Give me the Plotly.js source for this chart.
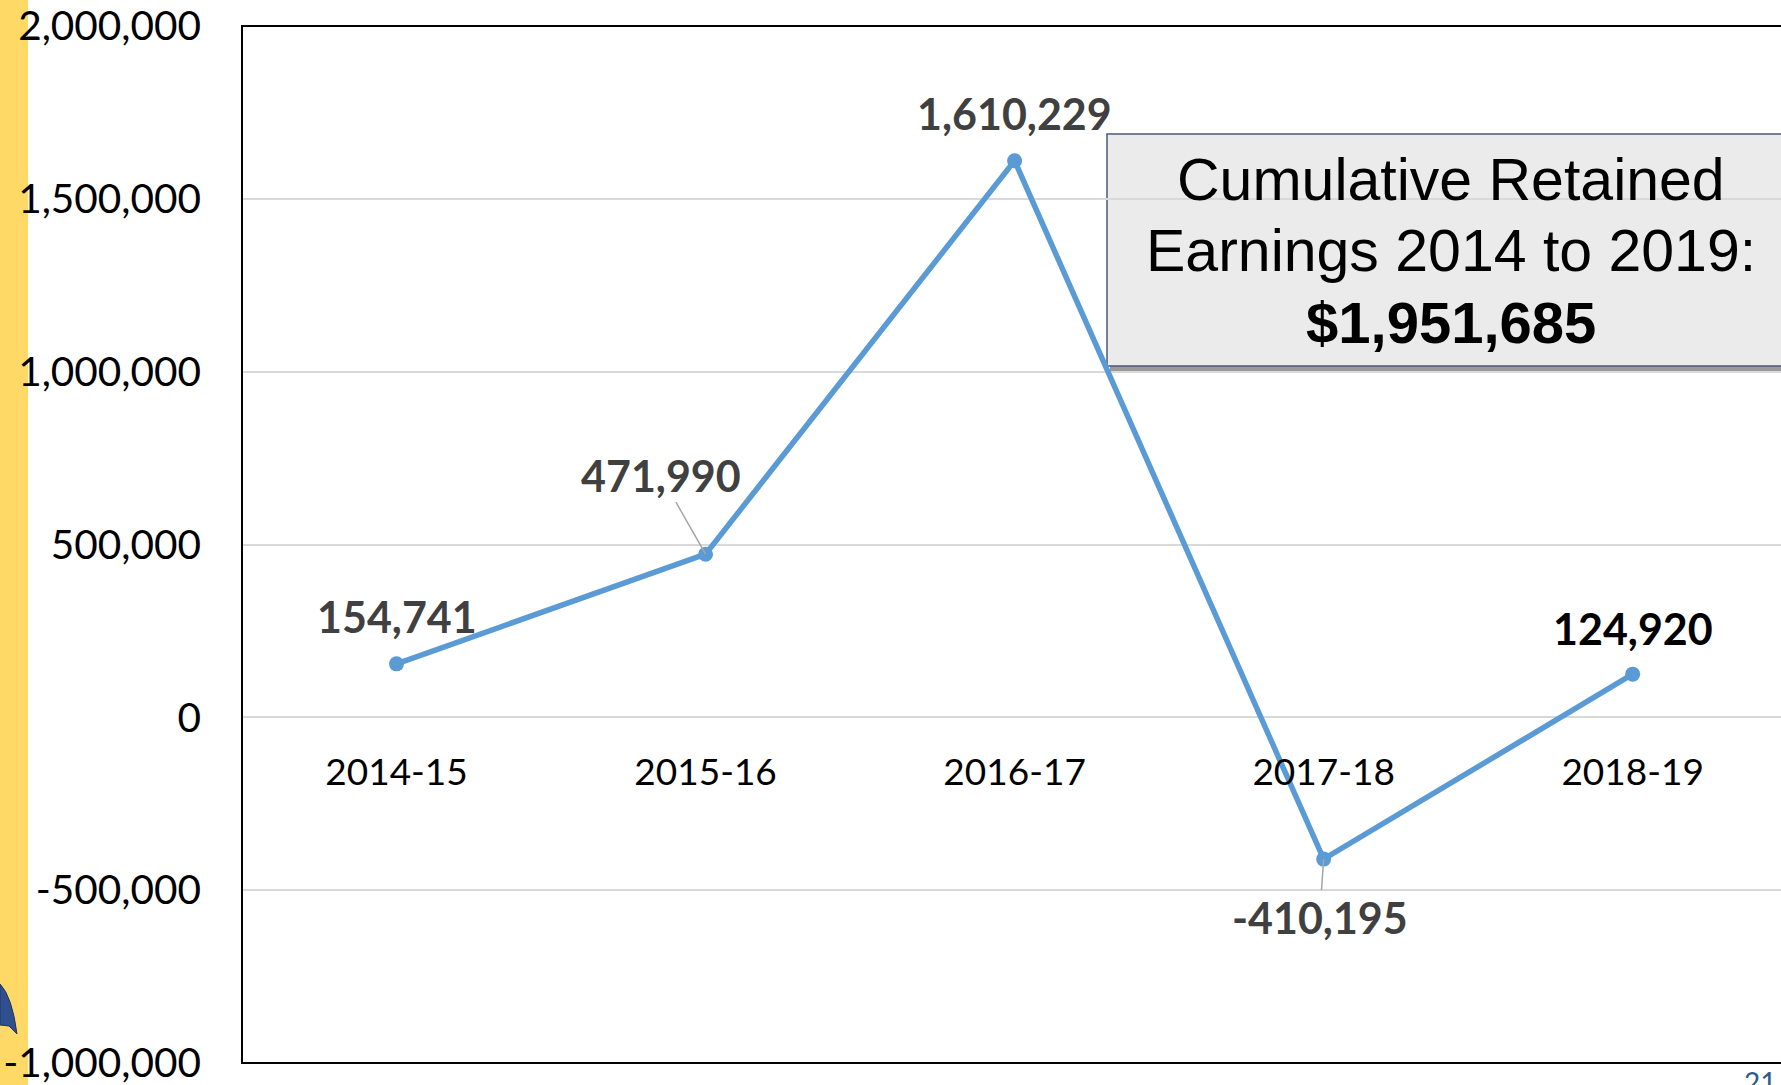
<!DOCTYPE html>
<html>
<head>
<meta charset="utf-8">
<script src="https://cdn.plot.ly/plotly-3.0.1.min.js"></script>
<style>
html,body{margin:0;padding:0;background:#fff;overflow:hidden;}
#chart{width:1781px;height:1085px;}
</style>
</head>
<body>
<div id="chart"></div>
<script>
// ---- data ----
const years = ["2014-15", "2015-16", "2016-17", "2017-18", "2018-19"];
const retained = [154741, 471990, 1610229, -410195, 124920];
const labelText = ["154,741", "471,990", "1,610,229", "-410,195", "124,920"];
const tickValues = [-1000000, -500000, 0, 500000, 1000000, 1500000, 2000000];
const tickLabels = ["-1,000,000", "-500,000", "0", "500,000", "1,000,000", "1,500,000", "2,000,000"];
const boxLines = ["Cumulative Retained", "Earnings 2014 to 2019:", "$1,951,685"];
const pageNumber = "21";

// ---- layout helpers (pixel -> paper) ----
const W = 1781, H = 1085;
const L = 242, R = 1781, T = 26, B = 1063;
const fx = p => (p - L) / (R - L);
const fy = p => (B - p) / (B - T);

const trace = {
  type: "scatter",
  mode: "lines+markers",
  x: years,
  y: retained,
  line: {color: "#5B9BD5", width: 5.5},
  marker: {color: "#5B9BD5", size: 15},
  cliponaxis: false,
  hoverinfo: "skip"
};

// data label placement (pixel offsets), styles
const labelStyle = [
  {ax: 0, ay: -47, arrow: false, color: "#404040"},
  {ax: -45, ay: -79, arrow: true, color: "#404040"},
  {ax: 0, ay: -47, arrow: false, color: "#404040"},
  {ax: -4, ay: 58, arrow: true, color: "#404040"},
  {ax: 0, ay: -46, arrow: false, color: "#000000"}
];

const annotations = [];
years.forEach((yr, i) => {
  const s = labelStyle[i];
  const a = {
    x: yr, y: retained[i], xref: "x", yref: "y",
    text: labelText[i],
    font: {family: "Lato", size: 43, color: s.color, weight: "bold"},
    xanchor: "center", yanchor: "middle"
  };
  if (s.arrow) {
    Object.assign(a, {showarrow: true, arrowhead: 0, arrowwidth: 1.5, arrowcolor: "#A6A6A6",
      ax: s.ax, ay: s.ay, standoff: 0});
  } else {
    Object.assign(a, {showarrow: false, yshift: -s.ay});
  }
  annotations.push(a);
});

// text box lines
const boxY = [180, 251, 322];
boxLines.forEach((t, i) => {
  annotations.push({
    xref: "paper", yref: "paper", x: fx(1451), y: fy(boxY[i]),
    text: t, showarrow: false, xanchor: "center", yanchor: "middle",
    font: {family: "Liberation Sans", size: i === 2 ? 58 : 59, color: "#000000", weight: i === 2 ? "bold" : "normal"}
  });
});

// page number
annotations.push({
  xref: "paper", yref: "paper", x: fx(1760), y: fy(1063),
  text: pageNumber, showarrow: false, xanchor: "center", yanchor: "top",
  font: {family: "Lato", size: 28, color: "#2E5C8A"}
});

const logoPath = "M " + fx(0) + " " + fy(984) +
  " Q " + fx(12) + " " + fy(996) + " " + fx(17) + " " + fy(1034) +
  " L " + fx(9) + " " + fy(1026) + " L " + fx(0) + " " + fy(1025) + " Z";

const shapes = [
  // yellow side strip
  {type: "rect", xref: "paper", yref: "paper", x0: fx(0), x1: fx(28), y0: fy(H), y1: fy(0),
   fillcolor: "#FFD966", line: {width: 0}, layer: "below"},
  // logo fragment
  {type: "path", xref: "paper", yref: "paper", path: logoPath,
   fillcolor: "#2F4F8F", line: {color: "#1F3466", width: 1}, layer: "below"},
  // text box shadow
  {type: "rect", xref: "paper", yref: "paper", x0: fx(1110), x1: fx(1800), y0: fy(372), y1: fy(138),
   fillcolor: "#9A9A9A", line: {width: 0}, layer: "below"},
  // text box
  {type: "rect", xref: "paper", yref: "paper", x0: fx(1107), x1: fx(1800), y0: fy(366), y1: fy(134),
   fillcolor: "#EBEBEB", line: {color: "#4A5A75", width: 1.5}, layer: "below"},
  // plot border
  {type: "rect", xref: "paper", yref: "paper", x0: 0, x1: 1.02, y0: 0, y1: 1,
   fillcolor: "rgba(0,0,0,0)", line: {color: "#000000", width: 2}, layer: "above"}
];

const layout = {
  width: W, height: H,
  margin: {l: L, r: W - R, t: T, b: H - B, pad: 0},
  paper_bgcolor: "#FFFFFF",
  plot_bgcolor: "rgba(0,0,0,0)",
  showlegend: false,
  hovermode: false,
  xaxis: {
    type: "category",
    range: [-0.5, 4.48],
    showgrid: false, zeroline: false, showline: false,
    ticks: "",
    anchor: "free",
    position: (0 - tickValues[0]) / (tickValues[tickValues.length - 1] - tickValues[0]),
    tickfont: {family: "Lato", size: 37, color: "#000000"},
    ticklabelstandoff: 30
  },
  yaxis: {
    range: [tickValues[0], tickValues[tickValues.length - 1]],
    tickvals: tickValues, ticktext: tickLabels,
    showgrid: true, gridcolor: "#D9D9D9", gridwidth: 2,
    zeroline: true, zerolinecolor: "#D9D9D9", zerolinewidth: 2,
    showline: false, ticks: "",
    tickfont: {family: "Lato", size: 40.5, color: "#000000"},
    ticklabelstandoff: 40,
    ticklabeloverflow: "allow"
  },
  annotations: annotations,
  shapes: shapes
};

Plotly.newPlot("chart", [trace], layout, {displayModeBar: false, staticPlot: true});
</script>
</body>
</html>
